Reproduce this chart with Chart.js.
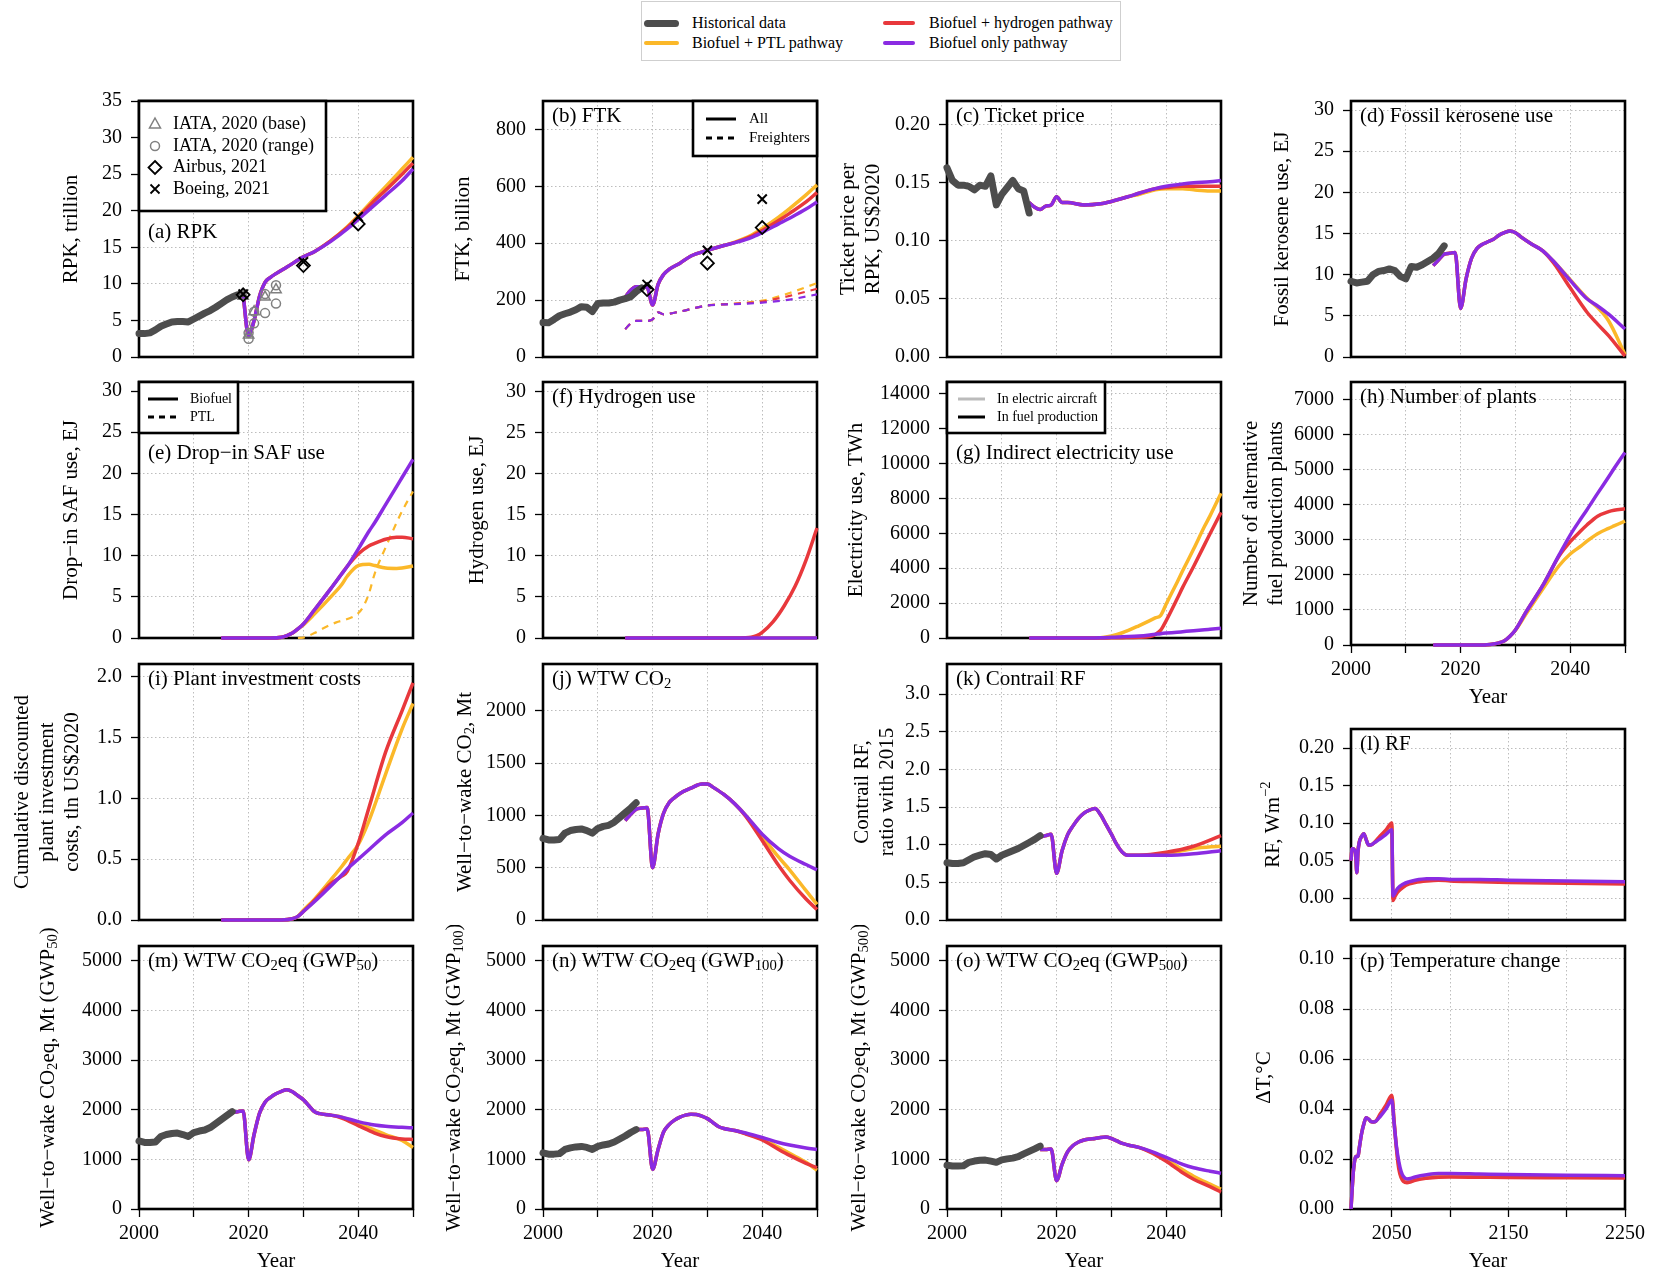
<!DOCTYPE html>
<html>
<head>
<meta charset="utf-8">
<title>Aviation pathways</title>
<script src="https://cdn.jsdelivr.net/npm/chart.js@4.4.1/dist/chart.umd.min.js"></script>
<style>
  html, body { margin: 0; padding: 0; background: #fff; }
  body { position: relative; width: 1665px; height: 1274px; overflow: hidden; font-family: "Liberation Serif", "Times New Roman", serif; }
  canvas { position: absolute; }
  #key { position: absolute; left: 641px; top: 1px; width: 480px; height: 60px; border: 1px solid #cfcfcf; box-sizing: border-box; }
  #key div { position: absolute; }
  #key span { position: absolute; font-size: 16px; line-height: 20px; white-space: nowrap; color: #000; }
</style>
</head>
<body>
<div id="key"></div>
<script>
// ---------- data ----------
const yrs00to17 = [2000,2001,2002,2003,2004,2005,2006,2007,2008,2009,2010,2011,2012,2013,2014,2015,2016,2017];

// (a) RPK, trillion
const rpkHistYears = [2000,2001,2002,2003,2004,2005,2006,2007,2008,2009,2010,2011,2012,2013,2014,2015,2016,2017,2018,2019];
const rpkHist = [3.2,3.2,3.3,3.7,4.2,4.5,4.8,4.85,4.85,4.8,5.2,5.6,6.0,6.35,6.8,7.3,7.8,8.2,8.5,8.7];
const rpkYears = [2019,2020,2021,2022,2023,2024,2025,2027,2030,2032,2035,2038,2040,2043,2045,2048,2050];
const rpkBio = [8.5,2.9,5.0,8.3,10.2,10.9,11.4,12.3,13.7,14.4,15.8,17.5,18.8,20.8,22.1,24.1,25.7];
const rpkH2  = [8.5,2.9,5.0,8.3,10.2,10.9,11.4,12.3,13.7,14.4,15.9,17.7,19.1,21.4,22.8,25.0,26.5];
const rpkPtl = [8.5,2.9,5.0,8.3,10.2,10.9,11.4,12.3,13.7,14.4,15.9,17.8,19.3,21.7,23.3,25.7,27.3];
const iataBaseYears = [2019,2020,2021,2023,2025];
const iataBase = [8.3,3.0,6.2,8.2,9.2];
const iataRangeYears = [2020,2020,2021,2021,2023,2023,2025,2025];
const iataRange = [2.5,3.3,4.6,6.2,6.0,8.6,7.3,9.8];
const outlookYears = [2019,2030,2040];
const airbusRpk = [8.5,12.5,18.2];
const boeingRpk = [8.6,13.0,19.2];

// (b) FTK, billion
const ftkHistYears = [2000,2001,2002,2003,2004,2005,2006,2007,2008,2009,2010,2011,2012,2013,2014,2015,2016,2017,2018];
const ftkHist = [121,120,132,145,152,158,166,177,175,160,188,190,190,193,200,205,212,230,243];
const ftkYears = [2015,2016,2017,2018,2019,2020,2021,2022,2023,2025,2027,2030,2033,2035,2038,2040,2043,2045,2048,2050];
const ftkBio = [210,235,247,247,245,183,255,290,308,330,355,375,392,402,420,438,468,488,520,545];
const ftkH2  = [210,235,247,247,245,183,255,290,308,330,355,375,392,402,424,445,480,505,545,578];
const ftkPtl = [210,235,247,247,245,183,255,290,308,330,355,375,392,404,428,452,492,522,570,605];
const frYears = [2015,2016,2017,2018,2019,2020,2021,2022,2025,2030,2035,2040,2045,2050];
const frBio = [98,118,127,127,127,132,157,150,160,181,186,191,202,220];
const frH2  = [98,118,127,127,127,132,157,150,160,181,187,195,215,240];
const frPtl = [98,118,127,127,127,132,157,150,160,181,188,198,225,260];
const airbusFtk = [237,330,455];
const boeingFtk = [255,375,555];

// (c) ticket price per RPK, US$2020
const priceHistYears = [2000,2001,2002,2003,2004,2005,2006,2007,2008,2009,2010,2011,2012,2013,2014,2015];
const priceHist = [0.163,0.152,0.148,0.148,0.147,0.144,0.148,0.147,0.156,0.131,0.140,0.146,0.152,0.145,0.143,0.124];
const priceYears = [2015,2016,2017,2018,2019,2020,2021,2022,2025,2028,2030,2033,2035,2038,2040,2043,2045,2048,2050];
const priceBio = [0.133,0.129,0.127,0.130,0.131,0.138,0.133,0.133,0.131,0.132,0.134,0.138,0.141,0.145,0.147,0.149,0.150,0.151,0.152];
const priceH2  = [0.133,0.129,0.127,0.130,0.131,0.138,0.133,0.133,0.131,0.132,0.134,0.138,0.141,0.145,0.146,0.147,0.147,0.147,0.147];
const pricePtl = [0.133,0.129,0.127,0.130,0.131,0.138,0.133,0.133,0.131,0.132,0.134,0.138,0.140,0.144,0.145,0.145,0.144,0.143,0.143];

// (d) fossil kerosene use, EJ
const keroHist = [9.2,9.0,9.1,9.2,10.0,10.4,10.5,10.7,10.5,9.8,9.5,11.0,10.9,11.2,11.6,12.0,12.6,13.5];
const keroYears = [2015,2016,2017,2018,2019,2020,2021,2022,2023,2024,2025,2026,2027,2028,2029,2030,2031,2033,2035,2037,2040,2043,2045,2047,2050];
const keroBio = [11.1,11.8,12.5,12.6,12.7,5.9,9.5,12.0,13.2,13.7,14.0,14.3,14.8,15.1,15.3,15.1,14.6,13.7,12.9,11.6,9.3,7.1,6.2,5.2,3.4];
const keroH2  = [11.1,11.8,12.5,12.6,12.7,5.9,9.5,12.0,13.2,13.7,14.0,14.3,14.8,15.1,15.3,15.1,14.6,13.7,12.9,11.4,8.4,5.5,4.0,2.6,0.1];
const keroPtl = [11.1,11.8,12.5,12.6,12.7,5.9,9.5,12.0,13.2,13.7,14.0,14.3,14.8,15.1,15.3,15.1,14.6,13.7,12.9,11.6,9.4,7.2,6.0,4.4,0.3];

// (e) drop-in SAF use, EJ
const safYears = [2015,2024,2026,2027,2028,2029,2030,2032,2035,2037,2038,2040,2042,2043,2045,2047,2048,2050];
const safBio = [0,0,0.1,0.3,0.6,1.1,1.7,3.4,6.0,7.8,8.7,10.8,13.0,14.0,16.2,18.4,19.5,21.7];
const safH2  = [0,0,0.1,0.3,0.6,1.1,1.7,3.4,6.0,7.8,8.7,10.2,11.2,11.5,12.0,12.25,12.25,12.05];
const safPtl = [0,0,0.1,0.3,0.6,1.1,1.6,2.9,5.0,6.5,7.5,8.8,8.95,8.8,8.5,8.45,8.5,8.75];
const ptlYears = [2029,2030,2032,2034,2036,2038,2040,2041,2042,2043,2045,2047,2048,2050];
const ptlUse = [0,0.05,0.6,1.3,1.9,2.3,3.0,3.9,5.5,7.8,11.0,14.0,15.4,17.8];

// (f) hydrogen use, EJ
const h2Years = [2015,2036,2037,2038,2039,2040,2042,2044,2046,2048,2050];
const h2Use = [0,0,0.02,0.1,0.3,0.7,2.0,3.9,6.3,9.5,13.4];
const h2NoneYears = [2015,2050];
const h2None = [0,0];

// (g) indirect electricity use, TWh
const elecYears = [2015,2026,2028,2030,2032,2035,2037,2038,2039,2040,2042,2043,2045,2047,2048,2050];
const elecBio = [0,0,10,40,70,110,170,210,250,280,330,360,420,470,500,560];
const elecH2  = [0,0,0,10,20,40,80,200,450,1000,2250,2900,4100,5350,5980,7200];
const elecPtl = [0,0,20,120,300,700,1000,1150,1300,1950,3200,3850,5100,6400,7000,8300];

// (h) number of alternative fuel production plants
const plantYears = [2015,2024,2026,2027,2028,2029,2030,2032,2035,2038,2040,2042,2043,2045,2047,2048,2050];
const plantBio = [0,0,30,60,120,250,430,960,1700,2580,3140,3620,3850,4330,4800,5040,5500];
const plantH2  = [0,0,30,60,120,250,430,960,1700,2550,2950,3270,3420,3680,3810,3850,3890];
const plantPtl = [0,0,30,60,120,250,420,900,1600,2270,2600,2830,2960,3180,3330,3400,3540];

// (i) cumulative discounted plant investment costs, tln US$2020
const invYears = [2015,2026,2028,2029,2030,2032,2035,2037,2038,2040,2042,2045,2048,2050];
const invBio = [0,0,0.01,0.03,0.07,0.15,0.28,0.37,0.42,0.50,0.58,0.70,0.80,0.88];
const invH2  = [0,0,0.01,0.03,0.07,0.16,0.30,0.36,0.40,0.63,0.93,1.38,1.72,1.95];
const invPtl = [0,0,0.01,0.03,0.08,0.17,0.33,0.44,0.50,0.62,0.82,1.20,1.57,1.78];

// (j) well-to-wake CO2, Mt
const co2Hist = [780,765,765,770,830,855,865,870,855,830,875,895,905,935,980,1025,1070,1120];
const co2Years = [2015,2016,2017,2018,2019,2020,2021,2022,2023,2024,2025,2027,2029,2030,2031,2033,2035,2037,2040,2043,2045,2048,2050];
const co2Bio = [950,1010,1060,1070,1075,500,820,1020,1120,1170,1210,1260,1300,1300,1270,1200,1110,1000,820,680,610,530,480];
const co2H2  = [950,1010,1060,1070,1075,500,820,1020,1120,1170,1210,1260,1300,1300,1270,1200,1110,990,760,520,380,200,100];
const co2Ptl = [950,1010,1060,1070,1075,500,820,1020,1120,1170,1210,1260,1300,1300,1270,1200,1110,1000,800,600,480,280,150];

// (k) contrail RF, ratio with 2015
const conHist = [0.76,0.75,0.75,0.76,0.80,0.84,0.86,0.88,0.87,0.81,0.86,0.89,0.92,0.95,0.99,1.03,1.07,1.12];
const conYears = [2017,2018,2019,2020,2021,2022,2023,2024,2025,2026,2027,2028,2029,2030,2031,2032,2033,2035,2040,2045,2050];
const conBio = [1.10,1.12,1.14,0.62,0.92,1.13,1.25,1.35,1.42,1.46,1.48,1.40,1.27,1.14,1.00,0.90,0.86,0.86,0.86,0.88,0.92];
const conH2  = [1.10,1.12,1.14,0.62,0.92,1.13,1.25,1.35,1.42,1.46,1.48,1.40,1.27,1.14,1.00,0.90,0.86,0.86,0.90,0.98,1.12];
const conPtl = [1.10,1.12,1.14,0.62,0.92,1.13,1.25,1.35,1.42,1.46,1.48,1.40,1.27,1.14,1.00,0.90,0.86,0.86,0.88,0.95,0.98];

// (l) RF, W m-2
const rfYears = [2015,2016,2017,2018,2019,2020,2021,2022,2024,2026,2028,2030,2032,2035,2040,2045,2050,2051,2053,2055,2060,2065,2070,2080,2090,2100,2125,2150,2200,2250];
const rfBio = [0.050,0.066,0.066,0.064,0.060,0.034,0.062,0.074,0.082,0.086,0.078,0.071,0.071,0.074,0.079,0.085,0.091,0.003,0.008,0.013,0.019,0.022,0.024,0.026,0.026,0.025,0.025,0.024,0.023,0.022];
const rfH2  = [0.050,0.066,0.066,0.064,0.060,0.034,0.062,0.074,0.082,0.086,0.078,0.071,0.071,0.074,0.083,0.091,0.100,-0.003,0.003,0.008,0.015,0.019,0.021,0.023,0.024,0.023,0.022,0.021,0.020,0.019];
const rfPtl = [0.050,0.066,0.066,0.064,0.060,0.034,0.062,0.074,0.082,0.086,0.078,0.071,0.071,0.074,0.082,0.088,0.096,0.000,0.006,0.011,0.017,0.021,0.023,0.025,0.025,0.024,0.023,0.023,0.022,0.021];

// (m)-(o) well-to-wake CO2eq, Mt
const gwpYears = [2017,2018,2019,2020,2021,2022,2023,2024,2025,2026,2027,2028,2029,2030,2031,2032,2033,2035,2037,2040,2043,2045,2048,2050];
const gwp50Hist = [1370,1340,1340,1350,1460,1500,1520,1530,1500,1460,1540,1570,1590,1640,1720,1800,1880,1960];
const gwp50Bio = [1950,1960,1975,990,1500,1930,2150,2250,2320,2370,2400,2360,2280,2200,2080,1960,1920,1890,1850,1760,1690,1665,1645,1635];
const gwp50H2  = [1950,1960,1975,990,1500,1930,2150,2250,2320,2370,2400,2360,2280,2200,2080,1960,1920,1890,1830,1680,1530,1460,1410,1400];
const gwp50Ptl = [1950,1960,1975,990,1500,1930,2150,2250,2320,2370,2400,2360,2280,2200,2080,1960,1920,1890,1850,1720,1590,1500,1380,1240];
const gwp100Hist = [1130,1105,1105,1115,1200,1230,1250,1260,1240,1200,1260,1290,1310,1350,1410,1470,1540,1600];
const gwp100Bio = [1600,1600,1610,800,1200,1550,1700,1790,1850,1890,1910,1905,1870,1820,1740,1660,1620,1580,1530,1440,1340,1290,1230,1200];
const gwp100H2  = [1600,1600,1610,800,1200,1550,1700,1790,1850,1890,1910,1905,1870,1820,1740,1660,1620,1580,1510,1390,1200,1080,920,830];
const gwp100Ptl = [1600,1600,1610,800,1200,1550,1700,1790,1850,1890,1910,1905,1870,1820,1740,1660,1620,1580,1520,1410,1240,1120,940,780];
const gwp500Hist = [880,865,865,870,940,965,980,985,965,940,990,1010,1025,1055,1110,1160,1210,1265];
const gwp500Bio = [1200,1200,1210,570,900,1150,1280,1350,1390,1410,1420,1440,1450,1420,1370,1320,1290,1240,1170,1040,900,830,760,720];
const gwp500H2  = [1200,1200,1210,570,900,1150,1280,1350,1390,1410,1420,1440,1450,1420,1370,1320,1290,1240,1150,960,730,600,450,340];
const gwp500Ptl = [1200,1200,1210,570,900,1150,1280,1350,1390,1410,1420,1440,1450,1420,1370,1320,1290,1240,1160,1000,790,660,500,400];

// (p) temperature change, degC
const dtYears = [2015,2016,2017,2018,2019,2021,2022,2024,2026,2028,2030,2032,2034,2036,2040,2045,2050,2052,2054,2056,2058,2060,2063,2066,2070,2080,2090,2100,2125,2150,2200,2250];
const dtBio = [0.000,0.008,0.015,0.019,0.021,0.021,0.024,0.030,0.034,0.0365,0.036,0.035,0.0348,0.035,0.037,0.040,0.0435,0.034,0.025,0.019,0.015,0.013,0.012,0.0122,0.0128,0.0137,0.0142,0.0142,0.014,0.0138,0.0135,0.0133];
const dtH2  = [0.000,0.008,0.015,0.019,0.021,0.021,0.024,0.030,0.034,0.0365,0.036,0.035,0.0348,0.035,0.038,0.0415,0.0455,0.035,0.024,0.016,0.0125,0.011,0.0105,0.0108,0.0115,0.0123,0.0127,0.0128,0.0127,0.0126,0.0125,0.0124];
const dtPtl = [0.000,0.008,0.015,0.019,0.021,0.021,0.024,0.030,0.034,0.0365,0.036,0.035,0.0348,0.035,0.0375,0.041,0.0445,0.0345,0.0245,0.0175,0.0138,0.012,0.0112,0.0115,0.0122,0.013,0.0134,0.0135,0.0133,0.0132,0.013,0.0128];

const pathwayNames = ['Historical data', 'Biofuel + PTL pathway', 'Biofuel + hydrogen pathway', 'Biofuel only pathway'];

// ---------- styling / layout ----------
const C_HIST = '#4d4d4d', C_PTL = '#fbb829', C_H2 = '#e8383c', C_BIO = '#8a2be2';
const GRID = '#bdbdbd';
const FONT = '"Liberation Serif", "Times New Roman", serif';
const COLS = [139, 543, 947, 1351], ROWS = [96, 377, 659, 941];
const PW = 274, PH = 268;
const LM = 138, RM = 26, TM = 16, BM = 14, XH = 65;

Chart.defaults.font.family = FONT;
Chart.defaults.color = '#000';

function xy(xs, ys) { return xs.map((x, i) => ({ x: x, y: ys[i] })); }
function hist(xs, ys) {
  return { data: xy(xs, ys), borderColor: C_HIST, borderWidth: 7, order: 1, tension: 0,
           borderCapStyle: 'round', borderJoinStyle: 'round', clip: 6 };
}
function path(color, xs, ys, dashed) {
  return { data: xy(xs, ys), borderColor: color, borderWidth: dashed ? 2.2 : 3.5,
           borderDash: dashed ? [7, 6] : [], order: color === C_BIO ? 2 : color === C_H2 ? 3 : 4,
           cubicInterpolationMode: 'monotone', borderJoinStyle: 'round', clip: 6 };
}
function trio(xs, ptl, h2, bio, dashed) {
  return [path(C_PTL, xs, ptl, dashed), path(C_H2, xs, h2, dashed), path(C_BIO, xs, bio, dashed)];
}
function marks(xs, ys, style, color, r, bw) {
  return { data: xy(xs, ys), showLine: false, pointStyle: style, pointRadius: r, pointHoverRadius: r,
           pointBorderColor: color, pointBackgroundColor: 'rgba(0,0,0,0)', pointBorderWidth: bw, order: 0, clip: 8 };
}

// rich text: _{sub} and ^{sup}
function parseRich(s) {
  const out = [], re = /([_^])\{([^}]*)\}/g;
  let last = 0, m;
  while ((m = re.exec(s))) {
    if (m.index > last) out.push({ t: s.slice(last, m.index), k: 0 });
    out.push({ t: m[2], k: m[1] === '_' ? 1 : 2 });
    last = re.lastIndex;
  }
  if (last < s.length) out.push({ t: s.slice(last), k: 0 });
  return out;
}
function drawRich(ctx, s, x, y, size, align) {
  const segs = parseRich(s);
  const f = k => (k ? size * 0.7 : size) + 'px ' + FONT;
  let w = 0;
  segs.forEach(g => { ctx.font = f(g.k); g.w = ctx.measureText(g.t).width; w += g.w; });
  let cx = align === 'center' ? x - w / 2 : x;
  ctx.textAlign = 'left';
  ctx.textBaseline = 'middle';
  segs.forEach(g => {
    ctx.font = f(g.k);
    ctx.fillText(g.t, cx, y + (g.k === 1 ? size * 0.24 : g.k === 2 ? -size * 0.32 : 0));
    cx += g.w;
  });
}

function drawSymbol(ctx, kind, x, y, color) {
  ctx.save();
  ctx.strokeStyle = color;
  ctx.lineWidth = (kind === 'tri' || kind === 'circ') ? 1.5 : 1.8;
  ctx.beginPath();
  if (kind === 'tri') { ctx.moveTo(x, y - 6); ctx.lineTo(x + 5.5, y + 4); ctx.lineTo(x - 5.5, y + 4); ctx.closePath(); }
  else if (kind === 'circ') ctx.arc(x, y, 4.5, 0, Math.PI * 2);
  else if (kind === 'diam') { ctx.moveTo(x, y - 6.5); ctx.lineTo(x + 6.5, y); ctx.lineTo(x, y + 6.5); ctx.lineTo(x - 6.5, y); ctx.closePath(); }
  else { ctx.moveTo(x - 4.5, y - 4.5); ctx.lineTo(x + 4.5, y + 4.5); ctx.moveTo(x + 4.5, y - 4.5); ctx.lineTo(x - 4.5, y + 4.5); }
  ctx.stroke();
  ctx.restore();
}

function drawLegend(ctx, a, L) {
  const x0 = L.right ? a.right - L.w : a.left, y0 = a.top;
  ctx.fillStyle = '#fff';
  ctx.fillRect(x0, y0, L.w, L.h);
  ctx.strokeStyle = '#000';
  ctx.lineWidth = 2.6;
  ctx.setLineDash([]);
  ctx.strokeRect(x0, y0, L.w, L.h);
  L.items.forEach(it => {
    const y = y0 + it.y;
    if (it.k === 'line' || it.k === 'dash') {
      ctx.strokeStyle = it.c;
      ctx.lineWidth = 3;
      ctx.setLineDash(it.k === 'dash' ? [6, 5] : []);
      ctx.beginPath(); ctx.moveTo(x0 + L.sx, y); ctx.lineTo(x0 + L.sx2, y); ctx.stroke();
      ctx.setLineDash([]);
    } else {
      drawSymbol(ctx, it.k, x0 + L.sx, y, it.c);
    }
    ctx.fillStyle = '#000';
    drawRich(ctx, it.t, x0 + L.tx, y, L.size, 'left');
  });
}

function decor(p) {
  return {
    id: 'decor',
    beforeDatasetsDraw(chart) {
      const { ctx, chartArea: a } = chart;
      ctx.save();
      ctx.strokeStyle = '#000';
      ctx.lineWidth = 2.6;
      ctx.strokeRect(a.left, a.top, a.right - a.left, a.bottom - a.top);
      ctx.restore();
    },
    afterDatasetsDraw(chart) {
      const { ctx, chartArea: a } = chart;
      ctx.save();
      ctx.fillStyle = '#000';
      const mid = (a.top + a.bottom) / 2;
      p.yTitle.forEach((line, i) => {
        ctx.save();
        ctx.translate(a.left - p.yOff + i * 25, mid);
        ctx.rotate(-Math.PI / 2);
        drawRich(ctx, line, 0, 0, 21, 'center');
        ctx.restore();
      });
      if (p.legend) drawLegend(ctx, a, p.legend);
      ctx.fillStyle = '#000';
      drawRich(ctx, p.title, a.left + 9, a.top + (p.tDy || 15), 21, 'left');
      ctx.restore();
    }
  };
}

function xScale(p) {
  const long = !!p.long, bottom = !!p.bottom;
  return {
    type: 'linear', min: long ? 2015 : 2000, max: long ? 2250 : 2050,
    ticks: { stepSize: long ? 50 : 10, includeBounds: false, autoSkip: false, maxRotation: 0,
             display: bottom, padding: 5, color: '#000', font: { size: 20 },
             callback: v => ((long ? (v - 2050) % 100 === 0 : v % 20 === 0) ? String(v) : '') },
    grid: { color: GRID, lineWidth: 1, drawTicks: bottom, tickLength: 8, tickColor: '#000', tickWidth: 1.3, tickBorderDash: [] },
    border: { display: false, dash: [1.5, 2.5] },
    title: { display: bottom, text: 'Year', color: '#000', font: { size: 21 }, padding: { top: 0, bottom: 0 } },
    afterFit: s => { s.height = bottom ? XH : 0; }
  };
}
function yScale(p) {
  return {
    type: 'linear', min: p.yMin, max: p.yMax,
    ticks: { stepSize: p.yStep, includeBounds: false, autoSkip: false, padding: 9, color: '#000',
             font: { size: 20 }, callback: v => Number(v).toFixed(p.dec || 0) },
    grid: { color: GRID, lineWidth: 1, drawTicks: true, tickLength: 8, tickColor: '#000', tickWidth: 1.3, tickBorderDash: [] },
    border: { display: false, dash: [1.5, 2.5] },
    // ticks at whole multiples of the step only
    afterBuildTicks: s => {
      const out = [];
      const first = Math.ceil(p.yMin / p.yStep - 1e-9);
      for (let i = first; i * p.yStep <= p.yMax + 1e-9; i++) out.push({ value: Math.round(i * p.yStep * 1e6) / 1e6 });
      s.ticks = out;
    },
    afterFit: s => { s.width = LM; }
  };
}

// ---------- inner legends ----------
const legendA = { w: 187, h: 110, size: 18, sx: 16, tx: 34, items: [
  { k: 'tri', c: '#808080', t: 'IATA, 2020 (base)', y: 23 },
  { k: 'circ', c: '#808080', t: 'IATA, 2020 (range)', y: 45 },
  { k: 'diam', c: '#000', t: 'Airbus, 2021', y: 66.5 },
  { k: 'cross', c: '#000', t: 'Boeing, 2021', y: 88 } ] };
const legendB = { right: true, w: 124, h: 55, size: 15, sx: 13, sx2: 43, tx: 56, items: [
  { k: 'line', c: '#000', t: 'All', y: 18 },
  { k: 'dash', c: '#000', t: 'Freighters', y: 37 } ] };
const legendE = { w: 99, h: 51, size: 14, sx: 9, sx2: 39, tx: 51, items: [
  { k: 'line', c: '#000', t: 'Biofuel', y: 17 },
  { k: 'dash', c: '#000', t: 'PTL', y: 35 } ] };
const legendG = { w: 158, h: 51, size: 14, sx: 11, sx2: 38, tx: 50, items: [
  { k: 'line', c: '#bbbbbb', t: 'In electric aircraft', y: 17 },
  { k: 'line', c: '#000', t: 'In fuel production', y: 35 } ] };

// ---------- panels ----------
const panels = [
  { col: 0, top: ROWS[0], yMin: 0, yMax: 35, yStep: 5, title: '(a) RPK', tDy: 131, yTitle: ['RPK, trillion'], yOff: 68, legend: legendA,
    sets: [marks(outlookYears, boeingRpk, 'crossRot', '#000', 6.5, 2), marks(outlookYears, airbusRpk, 'rectRot', '#000', 6.5, 1.8),
           marks(iataRangeYears, iataRange, 'circle', '#808080', 4.5, 1.5), marks(iataBaseYears, iataBase, 'triangle', '#808080', 6, 1.5),
           hist(rpkHistYears, rpkHist)].concat(trio(rpkYears, rpkPtl, rpkH2, rpkBio)) },
  { col: 1, top: ROWS[0], yMin: 0, yMax: 900, yStep: 200, title: '(b) FTK', yTitle: ['FTK, billion'], yOff: 80, legend: legendB,
    sets: [marks(outlookYears, boeingFtk, 'crossRot', '#000', 6.5, 2), marks(outlookYears, airbusFtk, 'rectRot', '#000', 6.5, 1.8),
           hist(ftkHistYears, ftkHist)].concat(trio(ftkYears, ftkPtl, ftkH2, ftkBio), trio(frYears, frPtl, frH2, frBio, true)) },
  { col: 2, top: ROWS[0], yMin: 0, yMax: 0.2205, yStep: 0.05, dec: 2, title: '(c) Ticket price', yTitle: ['Ticket price per', 'RPK, US$2020'], yOff: 99,
    sets: [hist(priceHistYears, priceHist)].concat(trio(priceYears, pricePtl, priceH2, priceBio)) },
  { col: 3, top: ROWS[0], yMin: 0, yMax: 31.1, yStep: 5, title: '(d) Fossil kerosene use', yTitle: ['Fossil kerosene use, EJ'], yOff: 69,
    sets: [hist(yrs00to17, keroHist)].concat(trio(keroYears, keroPtl, keroH2, keroBio)) },
  { col: 0, top: ROWS[1], yMin: 0, yMax: 31.1, yStep: 5, title: '(e) Drop\u2212in SAF use', tDy: 71, yTitle: ['Drop\u2212in SAF use, EJ'], yOff: 68, legend: legendE,
    sets: trio(safYears, safPtl, safH2, safBio).concat([path(C_PTL, ptlYears, ptlUse, true)]) },
  { col: 1, top: ROWS[1], yMin: 0, yMax: 31.2, yStep: 5, title: '(f) Hydrogen use', yTitle: ['Hydrogen use, EJ'], yOff: 66,
    sets: [path(C_PTL, h2NoneYears, h2None), path(C_BIO, h2NoneYears, h2None), path(C_H2, h2Years, h2Use)] },
  { col: 2, top: ROWS[1], yMin: 0, yMax: 14672, yStep: 2000, title: '(g) Indirect electricity use', tDy: 71, yTitle: ['Electricity use, TWh'], yOff: 91, legend: legendG,
    sets: trio(elecYears, elecPtl, elecH2, elecBio) },
  { col: 3, top: ROWS[1], yMin: 0, yMax: 7511, yStep: 1000, title: '(h) Number of plants', yTitle: ['Number of alternative', 'fuel production plants'], yOff: 100, bottom: true,
    sets: trio(plantYears, plantPtl, plantH2, plantBio) },
  { col: 0, top: ROWS[2], yMin: 0, yMax: 2.105, yStep: 0.5, dec: 1, title: '(i) Plant investment costs', yTitle: ['Cumulative discounted', 'plant investment', 'costs, tln US$2020'], yOff: 117,
    sets: trio(invYears, invPtl, invH2, invBio) },
  { col: 1, top: ROWS[2], yMin: 0, yMax: 2447, yStep: 500, title: '(j) WTW CO_{2}', yTitle: ['Well\u2212to\u2212wake CO_{2}, Mt'], yOff: 78,
    sets: [hist(yrs00to17, co2Hist)].concat(trio(co2Years, co2Ptl, co2H2, co2Bio)) },
  { col: 2, top: ROWS[2], yMin: 0, yMax: 3.4, yStep: 0.5, dec: 1, title: '(k) Contrail RF', yTitle: ['Contrail RF,', 'ratio with 2015'], yOff: 85,
    sets: [hist(yrs00to17, conHist)].concat(trio(conYears, conPtl, conH2, conBio)) },
  { col: 3, top: 724, h: 203, long: true, yMin: -0.029, yMax: 0.2253, yStep: 0.05, dec: 2, title: '(l) RF', yTitle: ['RF, Wm^{\u22122}'], yOff: 78,
    sets: trio(rfYears, rfPtl, rfH2, rfBio) },
  { col: 0, top: ROWS[3], yMin: 0, yMax: 5296, yStep: 1000, title: '(m) WTW CO_{2}eq (GWP_{50})', yTitle: ['Well\u2212to\u2212wake CO_{2}eq, Mt (GWP_{50})'], yOff: 91, bottom: true,
    sets: [hist(yrs00to17, gwp50Hist)].concat(trio(gwpYears, gwp50Ptl, gwp50H2, gwp50Bio)) },
  { col: 1, top: ROWS[3], yMin: 0, yMax: 5296, yStep: 1000, title: '(n) WTW CO_{2}eq (GWP_{100})', yTitle: ['Well\u2212to\u2212wake CO_{2}eq, Mt (GWP_{100})'], yOff: 89, bottom: true,
    sets: [hist(yrs00to17, gwp100Hist)].concat(trio(gwpYears, gwp100Ptl, gwp100H2, gwp100Bio)) },
  { col: 2, top: ROWS[3], yMin: 0, yMax: 5296, yStep: 1000, title: '(o) WTW CO_{2}eq (GWP_{500})', yTitle: ['Well\u2212to\u2212wake CO_{2}eq, Mt (GWP_{500})'], yOff: 88, bottom: true,
    sets: [hist(yrs00to17, gwp500Hist)].concat(trio(gwpYears, gwp500Ptl, gwp500H2, gwp500Bio)) },
  { col: 3, top: ROWS[3], long: true, yMin: 0, yMax: 0.1052, yStep: 0.02, dec: 2, title: '(p) Temperature change', yTitle: ['\u0394T,\u00b0C'], yOff: 87, bottom: true,
    sets: trio(dtYears, dtPtl, dtH2, dtBio) }
];

panels.forEach(p => {
  const ph = p.h || PH;
  const w = LM + PW + RM;
  const h = TM + ph + (p.bottom ? XH + 4 : BM);
  const c = document.createElement('canvas');
  c.width = w; c.height = h;
  c.style.left = (COLS[p.col] - LM) + 'px';
  c.style.top = (p.top - TM) + 'px';
  c.style.width = w + 'px';
  c.style.height = h + 'px';
  document.body.appendChild(c);
  new Chart(c, {
    type: 'line',
    data: { datasets: p.sets },
    options: {
      responsive: false, animation: false, devicePixelRatio: 1, events: [],
      layout: { padding: { left: 0, right: RM, top: TM, bottom: p.bottom ? 4 : BM } },
      elements: { point: { radius: 0, hoverRadius: 0 } },
      plugins: { legend: { display: false }, tooltip: { enabled: false } },
      scales: { x: xScale(p), y: yScale(p) }
    },
    plugins: [decor(p)]
  });
});

// ---------- shared legend on top ----------
const keyColors = [C_HIST, C_PTL, C_H2, C_BIO];
const keySlots = [{ x: 2, tx: 50, w: 35, row: 0 }, { x: 2, tx: 50, w: 35, row: 1 }, { x: 241, tx: 287, w: 32, row: 0 }, { x: 241, tx: 287, w: 32, row: 1 }];
const key = document.getElementById('key');
pathwayNames.forEach((name, i) => {
  const s = keySlots[i], cy = 21 + s.row * 20, thick = i === 0 ? 7 : 4;
  const sw = document.createElement('div');
  sw.style.cssText = 'left:' + s.x + 'px;top:' + (cy - thick / 2) + 'px;width:' + s.w + 'px;height:' + thick + 'px;background:' + keyColors[i] + ';border-radius:' + thick / 2 + 'px';
  key.appendChild(sw);
  const tx = document.createElement('span');
  tx.textContent = name;
  tx.style.left = s.tx + 'px';
  tx.style.top = (cy - 10) + 'px';
  key.appendChild(tx);
});
</script>
</body>
</html>
